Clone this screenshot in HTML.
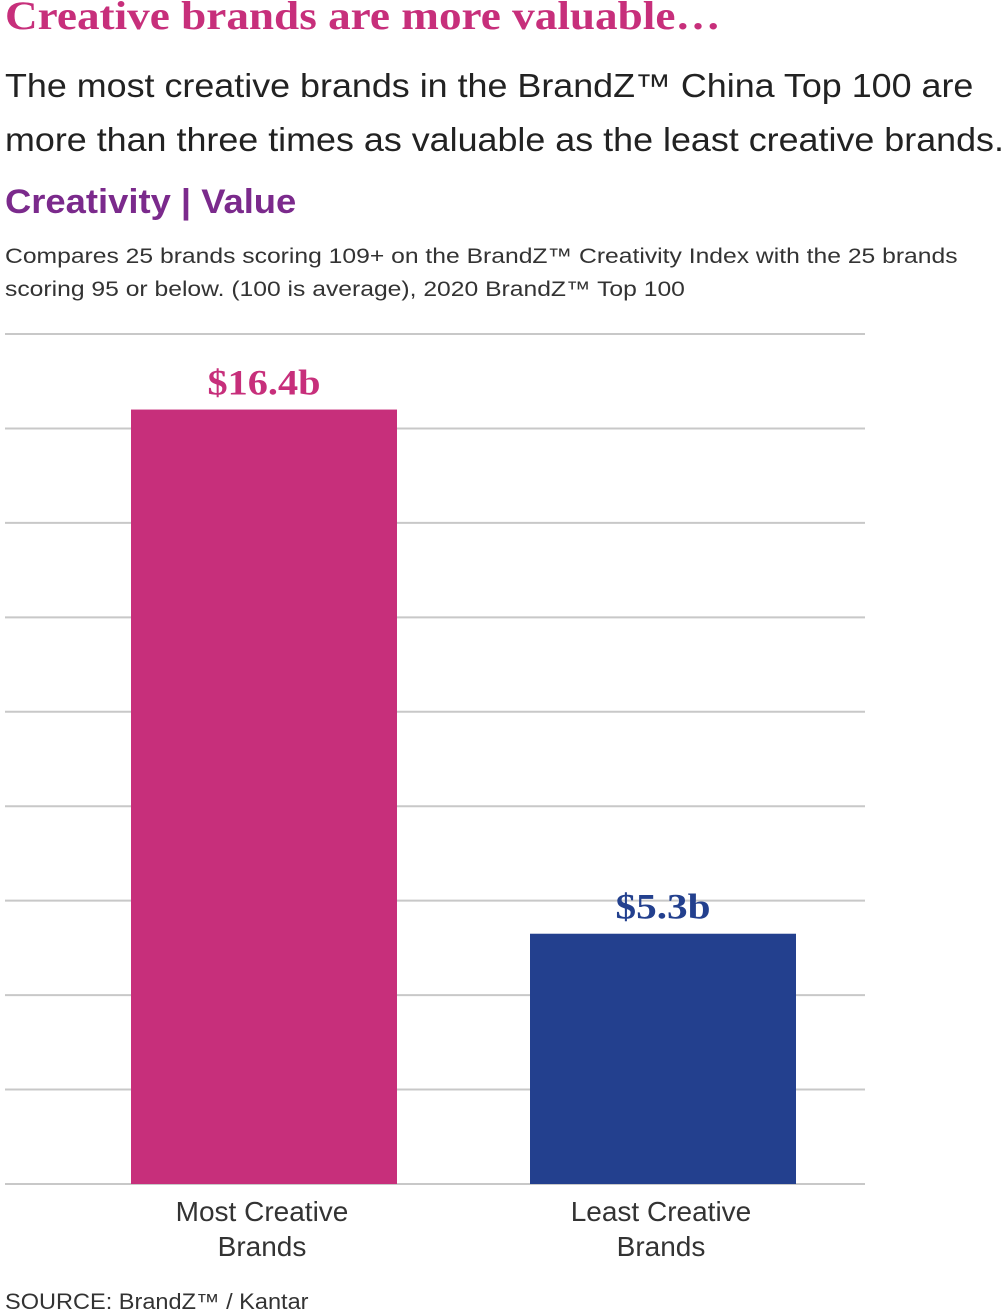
<!DOCTYPE html>
<html><head><meta charset="utf-8"><style>
body{margin:0;width:1007px;height:1311px;background:#fff;overflow:hidden;font-family:"Liberation Sans",sans-serif;position:relative}
.t{position:absolute;left:5px;white-space:nowrap;transform-origin:0 0}
</style></head><body>
<div class="t" style="top:-8px;font-family:'Liberation Serif',serif;font-weight:bold;font-size:40px;color:#c72f7b;transform:scaleX(1.13)">Creative brands are more valuable…</div>
<div class="t" style="top:59px;font-size:33px;line-height:54px;color:#222;transform:scaleX(1.087)">The most creative brands in the BrandZ™ China Top 100 are<br>more than three times as valuable as the least creative brands.</div>
<div class="t" style="top:183px;font-size:34px;font-weight:bold;color:#7b2a8c;transform:scaleX(1.07)">Creativity | Value</div>
<div class="t" style="top:240px;font-size:21px;line-height:33px;color:#333;transform:scaleX(1.175)">Compares 25 brands scoring 109+ on the BrandZ™ Creativity Index with the 25 brands<br>scoring 95 or below. (100 is average), 2020 BrandZ™ Top 100</div>
<svg id="chart" width="1007" height="1311" style="position:absolute;left:0;top:0"></svg>
<div class="t" style="top:1289px;font-size:22px;color:#333;transform:scaleX(1.07)">SOURCE: BrandZ™ / Kantar</div>
<script>
const categories=["Most Creative|Brands","Least Creative|Brands"];
const values=[16.4,5.3];
const labels=["$16.4b","$5.3b"];
const colors=["#c72f7b","#23408e"];
const ticks=[0,2,4,6,8,10,12,14,16,18];
const svg=document.getElementById('chart');
const NS='http://www.w3.org/2000/svg';
const x0=5,x1=865,yB=1184,yT=334,maxV=18;
const y=v=>yB-(v/maxV)*(yB-yT);
const firstC=264,step=399,barW=266;
const xc=i=>firstC+step*i;
function mk(t,a){const e=document.createElementNS(NS,t);for(const k in a)e.setAttribute(k,a[k]);svg.appendChild(e);return e;}
ticks.forEach((t,i)=>{
  const l=mk('line',{x1:x0,x2:x1,y1:y(t),y2:y(t),stroke:'#c8c8c8','stroke-width':2});
  
  
});
categories.forEach((c,i)=>{
  const cx=xc(i);
  const r=mk('rect',{x:cx-barW/2,y:y(values[i]),width:barW,height:yB-y(values[i]),fill:colors[i]});
  
  
  const t=mk('text',{x:cx,y:y(values[i])-15,'text-anchor':'middle','font-family':'Liberation Serif, serif','font-weight':'bold','font-size':36,fill:colors[i],textLength:i===0?113:95,lengthAdjust:'spacingAndGlyphs'});
  t.textContent=labels[i];
  
  
  c.split('|').forEach((p,j)=>{
    const tx=mk('text',{x:cx-2,y:1221+j*35,'text-anchor':'middle','font-size':28,fill:'#333'});
    tx.textContent=p;
    
    
  });
});
</script>
</body></html>
